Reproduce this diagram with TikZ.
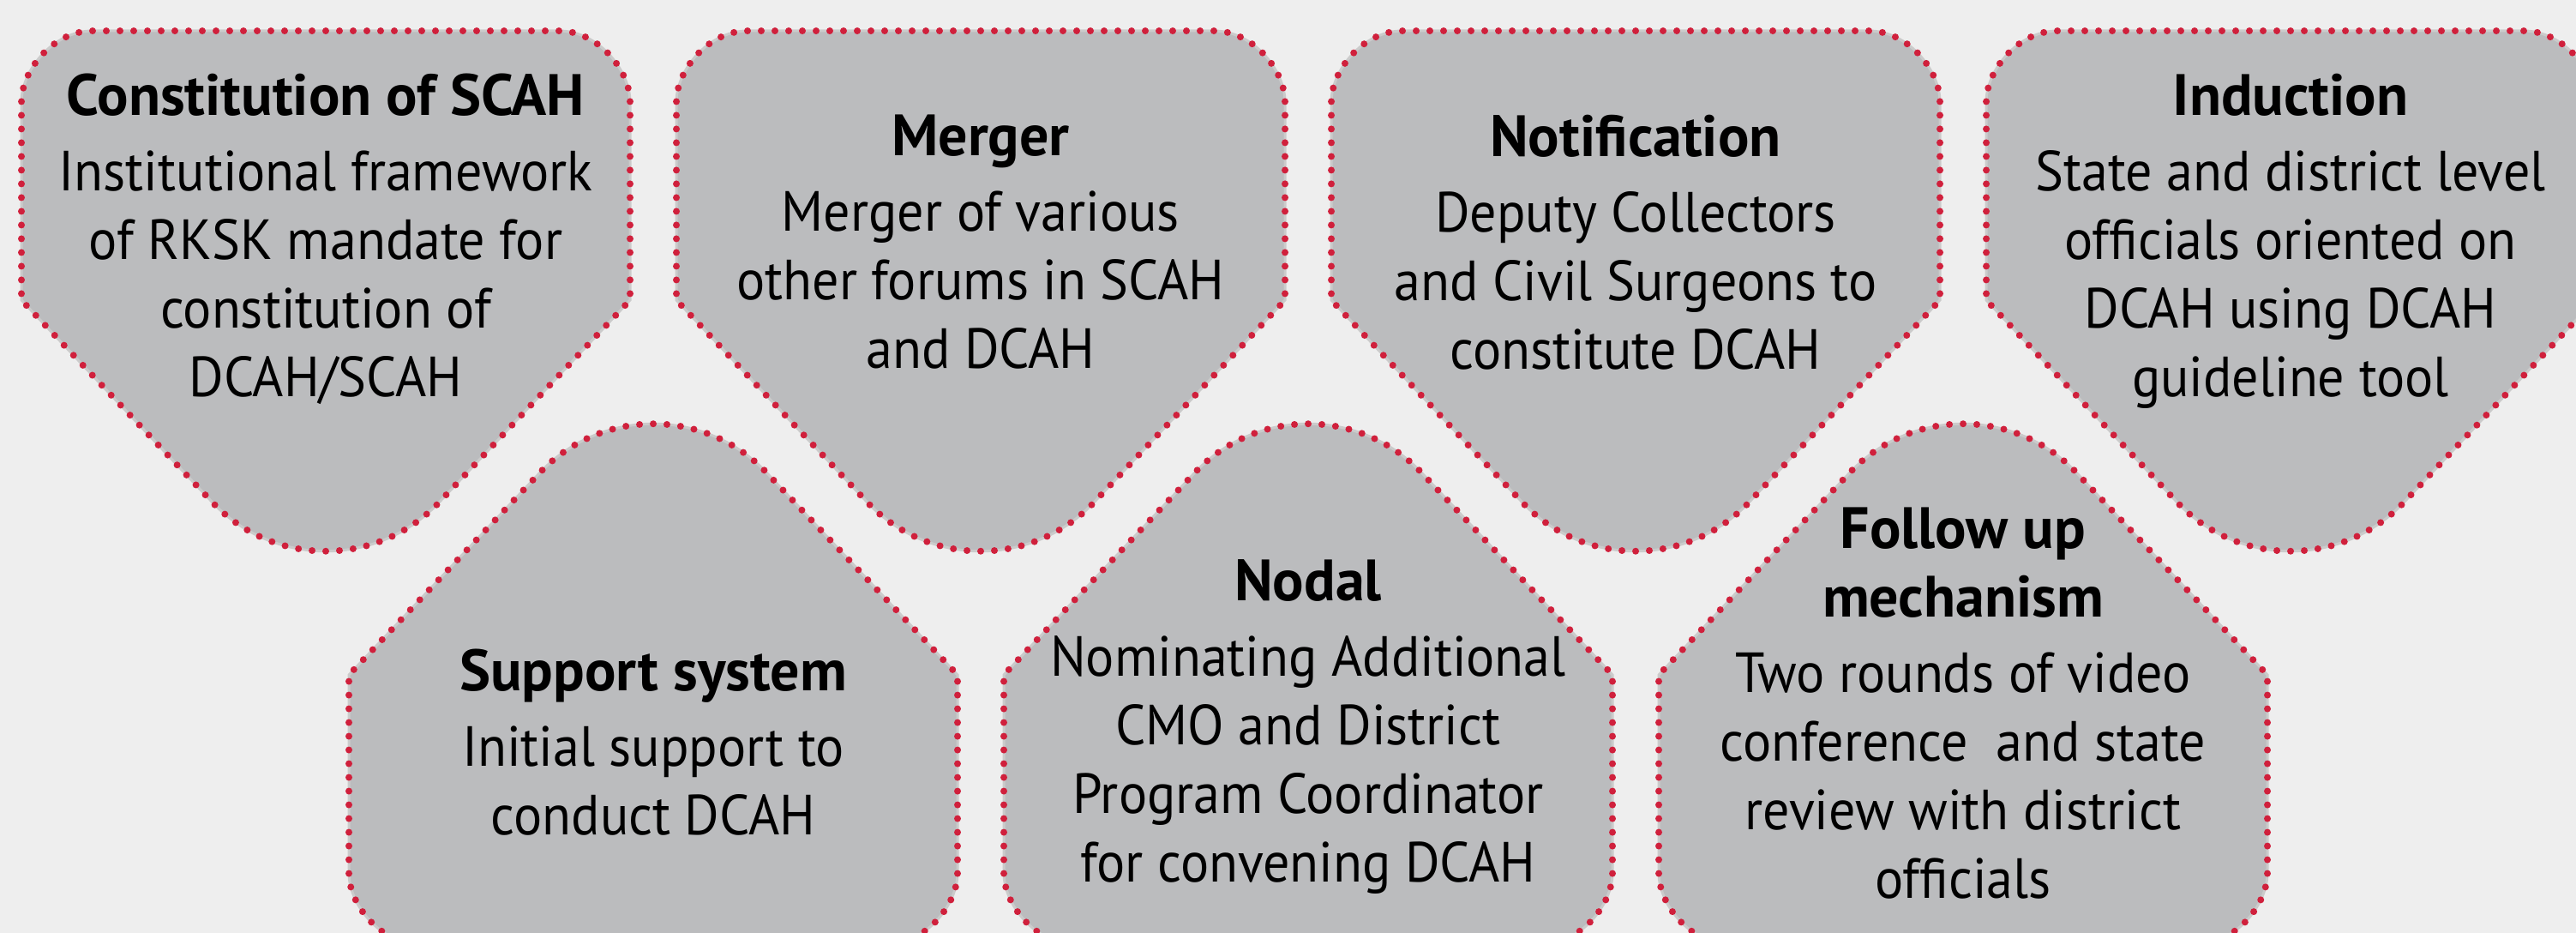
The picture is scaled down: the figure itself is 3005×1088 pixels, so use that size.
\documentclass[tikz,border=0pt]{standalone}
\usepackage{fontspec}
\setmainfont{PT Sans}[FakeStretch=0.94,BoldFeatures={FakeStretch=1.0}]
\usepackage{tikz}

\definecolor{pagegray}{HTML}{EEEEEE}
\definecolor{cardgray}{HTML}{BBBCBE}
\definecolor{rimgray}{HTML}{CBCBCB}
\definecolor{dotred}{HTML}{D0203C}
\newcommand{\cardhead}[1]{{\fontsize{17}{20}\selectfont\bfseries #1}}

\begin{document}
\begin{tikzpicture}[x=0.25pt,y=-0.25pt,
    cardline/.style={fill=cardgray,draw=rimgray,line width=0.75pt,
      postaction={draw=dotred,line width=2pt,line cap=round,dash pattern=on 0pt off 4pt}},
    card/.pic={
      \path[cardline] (-272,36) -- (272,36) .. controls (318,36) and (355,82) .. (355,119)
        -- (355,350) -- (133,585) .. controls (61,662) and (-61,662) .. (-133,585)
        -- (-355,350) -- (-355,119) .. controls (-355,82) and (-318,36) .. cycle;
    },
    cardtext/.style={anchor=north,align=center,inner sep=0pt,
      font=\fontsize{16.5}{20}\selectfont}]
          \clip (0,0) rectangle (3005,1088);
          \fill[pagegray] (0,0) rectangle (3005,1088);
          % top row, pointing down
          \pic at (380,0)  {card};
          \pic at (1144,0) {card};
          \pic at (1908,0) {card};
          \pic at (2672,0) {card};
          % bottom row, pointing up
          \pic[yscale=-1] at (762,1137)  {card};
          \pic[yscale=-1] at (1526,1137) {card};
          \pic[yscale=-1] at (2290,1137) {card};
          \node[cardtext] (constitution) at (380,85)  {\cardhead{Constitution of SCAH}\\[2pt] Institutional framework\\ of RKSK mandate for\\ constitution of\\ DCAH/SCAH};
          \node[cardtext] (merger)       at (1144,133) {\cardhead{Merger}\\[2pt] Merger of various\\ other forums in SCAH\\ and DCAH};
          \node[cardtext] (notification) at (1908,133) {\cardhead{Notification}\\[2pt] Deputy Collectors\\ and Civil Surgeons to\\ constitute DCAH};
          \node[cardtext] (induction)    at (2672,85)  {\cardhead{Induction}\\[2pt] State and district level\\ officials oriented on\\ DCAH using DCAH\\ guideline tool};
          \node[cardtext] (support)      at (762,756)  {\cardhead{Support system}\\[2pt] Initial support to\\ conduct DCAH};
          \node[cardtext] (nodal)        at (1526,652) {\cardhead{Nodal}\\[2pt] Nominating Additional\\ CMO and District\\ Program Coordinator\\ for convening DCAH};
          \node[cardtext] (followup)     at (2290,591) {\cardhead{Follow up}\\ \cardhead{mechanism}\\[2pt] Two rounds of video\\ conference~ and state\\ review with district\\ officials};
        \end{tikzpicture}
\end{document}
